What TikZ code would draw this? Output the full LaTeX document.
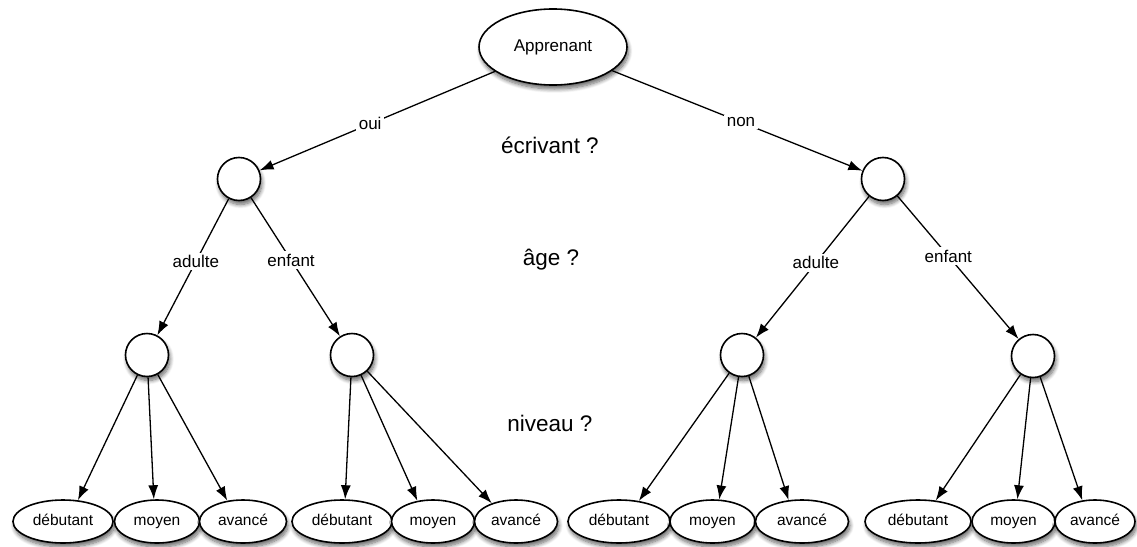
\documentclass[tikz,border=0pt]{standalone}
\usepackage{fontspec}
\setmainfont{Liberation Sans}
\usetikzlibrary{shapes.geometric,arrows.meta,shadows.blur}
\begin{document}
\begin{tikzpicture}[x=1pt,y=-1pt,
  shad/.style={blur shadow={shadow blur steps=8,shadow xshift=1.5pt,shadow yshift=-4pt,shadow opacity=60,shadow blur radius=4pt}},
  root/.style={ellipse,draw,line width=1.6pt,fill=white,shad,minimum width=148pt,minimum height=76pt,inner sep=0pt,font=\fontsize{17}{19}\selectfont},
  dec/.style={circle,draw,line width=1.6pt,fill=white,shad,minimum size=43pt,inner sep=0pt},
  leaf/.style={ellipse,draw,line width=1.6pt,fill=white,shad,minimum height=43pt,inner sep=0pt,text height=11.5pt,text depth=3.5pt,font=\fontsize{15.5}{17}\selectfont},
  edge/.style={draw,line width=1.3pt,-{Latex[length=14pt,width=10pt]}},
  elab/.style={fill=white,inner sep=2.5pt,font=\fontsize{17}{19}\selectfont},
  q/.style={font=\fontsize{22.5}{25}\selectfont}]
\useasboundingbox (0,0) rectangle (1137,546);
\node[root] (r) at (553,47) {Apprenant};
\node[dec] (a) at (239,179) {};
\node[dec] (b) at (883,179) {};
\node[dec] (a1) at (147,355) {};
\node[dec] (a2) at (352,355) {};
\node[dec] (b1) at (742,355) {};
\node[dec] (b2) at (1033,356) {};
% leaves
\node[leaf,minimum width=100pt] (l11) at (63,521.5) {débutant};
\node[leaf,minimum width=85pt] (l12) at (157,521.5) {moyen};
\node[leaf,minimum width=87pt] (l13) at (243,521.5) {avancé};
\node[leaf,minimum width=100pt] (l21) at (342,521.5) {débutant};
\node[leaf,minimum width=83pt] (l22) at (433,521.5) {moyen};
\node[leaf,minimum width=83pt] (l23) at (516,521.5) {avancé};
\node[leaf,minimum width=102pt] (l31) at (619,521.5) {débutant};
\node[leaf,minimum width=85pt] (l32) at (712.5,521.5) {moyen};
\node[leaf,minimum width=93pt] (l33) at (802,521.5) {avancé};
\node[leaf,minimum width=106pt] (l41) at (918,521.5) {débutant};
\node[leaf,minimum width=83pt] (l42) at (1013.5,521.5) {moyen};
\node[leaf,minimum width=80pt] (l43) at (1095,521.5) {avancé};
% edges
\draw[edge] (r) -- node[elab,pos=0.53] (eoui) {oui} (a);
\draw[edge] (r) -- node[elab,pos=0.515] (enon) {non} (b);
\draw[edge] (a) -- node[elab,pos=0.46] (ea1) {adulte} (a1);
\draw[edge] (a) -- node[elab,pos=0.45] (ea2) {enfant} (a2);
\draw[edge] (b) -- node[elab,pos=0.47] (eb1) {adulte} (b1);
\draw[edge] (b) -- node[elab,pos=0.42] (eb2) {enfant} (b2);
\draw[edge] (a1) -- (l11.55);
\draw[edge] (a1) -- (l12.98);
\draw[edge] (a1) -- (l13.127);
\draw[edge] (a2) -- (l21.82);
\draw[edge] (a2) -- (l22.127);
\draw[edge] (a2) -- (l23.143);
\draw[edge] (b1) -- (l31.46);
\draw[edge] (b1) -- (l32.73);
\draw[edge] (b1) -- (l33.122);
\draw[edge] (b2) -- (l41.50);
\draw[edge] (b2) -- (l42.80);
\draw[edge] (b2) -- (l43.121);
% questions
\node[q] (q1) at (550,145) {écrivant ?};
\node[q] (q2) at (551,260) {âge ?};
\node[q] (q3) at (550,423) {niveau ?};
\end{tikzpicture}
\end{document}
